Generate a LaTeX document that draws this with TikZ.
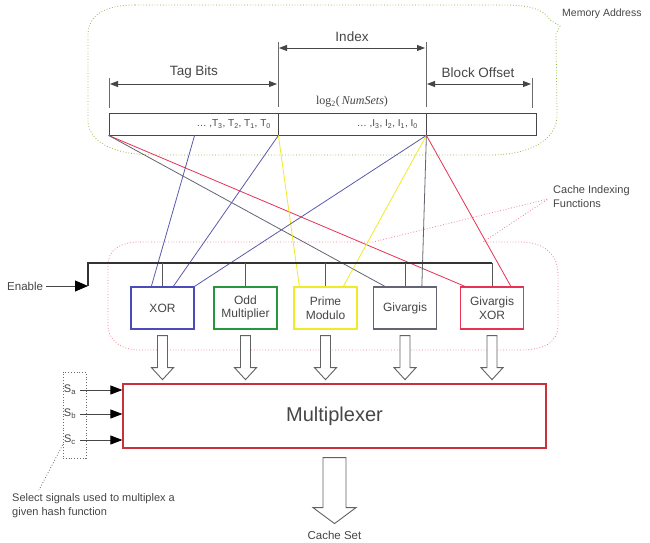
\documentclass[tikz,border=0pt]{standalone}
\usepackage{fontspec}
\setmainfont{Liberation Sans}
\newfontfamily\lserif{Liberation Serif}
\usetikzlibrary{arrows.meta,calc}
\definecolor{txt}{RGB}{70,70,70}
\definecolor{cblue}{RGB}{75,75,185}
\definecolor{lblue}{RGB}{90,90,170}
\definecolor{cgreen}{RGB}{40,150,60}
\definecolor{cyellow}{RGB}{240,235,40}
\definecolor{cgrey}{RGB}{100,100,115}
\definecolor{cred}{RGB}{230,50,85}
\definecolor{muxred}{RGB}{200,50,60}
\definecolor{cpink}{RGB}{240,130,150}
\definecolor{cloudg}{RGB}{150,185,70}
\begin{document}
\begin{tikzpicture}[x=1pt,y=-1pt,
  lbl/.style={text=txt, font=\fontsize{13.5}{16}\selectfont, inner sep=0pt},
  small/.style={text=txt, font=\fontsize{11}{14}\selectfont, inner sep=0pt},
  fld/.style={draw=txt, line width=0.8pt, minimum height=22pt, inner sep=0pt},
  fn/.style={draw, line width=1.3pt, fill=white, minimum width=63pt, minimum height=42pt, inner sep=1pt, align=center, text=txt, font=\fontsize{12}{13.5}\selectfont},
  dimarrow/.style={draw=txt, line width=0.9pt, {Triangle[length=8pt,width=6pt]}-{Triangle[length=8pt,width=6pt]}},
  dimtick/.style={draw=txt!80, line width=0.6pt},
  wire/.style={line width=0.8pt},
  hollow/.style={draw=txt!85, line width=0.9pt, fill=white, line join=miter},
  drop/.style={draw=txt!90, line width=0.9pt},
  selarrow/.style={draw=txt, line width=0.7pt, -{Triangle[length=12pt,width=9pt,color=black]}},
  slbl/.style={text=txt, font=\fontsize{11}{12}\selectfont, inner sep=1pt},
  cloudline/.style={draw=cloudg, line width=0.8pt, dotted},
  pinkline/.style={draw=cpink, line width=0.8pt, dotted}
]
\useasboundingbox (0,0) rectangle (650,543);
\fill[white] (0,0) rectangle (650,543);

% Memory address cloud
\draw[cloudline] (135,5) -- (505,5) .. controls (530,5) and (545,10) .. (550,20) -- (560,26) -- (556,34) -- (557,115) .. controls (557,140) and (530,155) .. (490,155) -- (155,155) .. controls (110,155) and (88,140) .. (88,120) -- (88,35) .. controls (88,15) and (105,5) .. (135,5) -- cycle;
\node[anchor=west, text=txt, font=\fontsize{10.5}{12}\selectfont, inner sep=0pt] (mem) at (562,14) {Memory Address};

% Cache indexing functions cloud
\draw[pinkline] (140,242) -- (373,242) -- (548,199) -- (483,242) -- (520,242) .. controls (545,242) and (558,255) .. (558,275) -- (558,325) .. controls (558,342) and (545,350) .. (520,350) -- (140,350) .. controls (120,350) and (108,340) .. (108,325) -- (108,265) .. controls (108,250) and (120,242) .. (140,242) -- cycle;
\node[anchor=west, align=left, small] (cif) at (553,197) {Cache Indexing\\Functions};

% Address fields
\node[fld, minimum width=169pt] (tag) at (193.5,124) {};
\node[fld, minimum width=148pt] (idx) at (352,124) {};
\node[fld, minimum width=110pt] (off) at (481,124) {};
\node[anchor=east, text=txt, font=\fontsize{10}{11}\selectfont, inner sep=0pt] (ttxt) at (271,124) {\dots\ ,T\textsubscript{3}, T\textsubscript{2}, T\textsubscript{1}, T\textsubscript{0}};
\node[anchor=east, text=txt, font=\fontsize{10}{11}\selectfont, inner sep=0pt] (itxt) at (418,124) {\dots\ ,I\textsubscript{3}, I\textsubscript{2}, I\textsubscript{1}, I\textsubscript{0}};
\node[text=txt, font=\lserif\fontsize{12}{13}\selectfont, inner sep=0pt] (logn) at (352,102) {log\textsubscript{2}(\,\textit{NumSets})};

% dimension ticks and arrows
\coordinate (t0a) at (109,78);  \coordinate (t0b) at (109,108);
\coordinate (t1a) at (278,42);  \coordinate (t1b) at (278,107);
\coordinate (t2a) at (426,42);  \coordinate (t2b) at (426,107);
\coordinate (t3a) at (532,78);  \coordinate (t3b) at (532,108);
\draw[dimtick] (t0a) -- (t0b);
\draw[dimtick] (t1a) -- (t1b);
\draw[dimtick] (t2a) -- (t2b);
\draw[dimtick] (t3a) -- (t3b);
\draw[dimarrow] (110,84) -- (277,84);
\draw[dimarrow] (279,48) -- (425,48);
\draw[dimarrow] (427,84) -- (531,84);
\node[lbl] (tagl) at (194,72) {Tag Bits};
\node[lbl] (idxl) at (352,37) {Index};
\node[lbl] (offl) at (478,73) {Block Offset};

% address tap points
\coordinate (a0) at (tag.south west);
\coordinate (aT) at ([xshift=86pt]tag.south west);
\coordinate (a1) at (tag.south east);
\coordinate (a2) at (idx.south east);

% function boxes
\node[fn, draw=cblue] (xor) at (162.5,308) {XOR};
\node[fn, draw=cgreen] (odd) at (245.5,308) {Odd\\Multiplier};
\node[fn, draw=cyellow] (prime) at (325.5,308) {Prime\\Modulo};
\node[fn, draw=cgrey] (giv) at (405,308) {Givargis};
\node[fn, draw=cred] (givx) at (492,308) {Givargis\\XOR};

% wires from address to functions
\draw[wire, cred] (a0) -- ([xshift=5pt]givx.north west);
\draw[wire, cgrey] (a0) -- ([xshift=12pt]giv.north west);
\draw[wire, lblue] (aT) -- ([xshift=21pt]xor.north west);
\draw[wire, lblue] (a1) -- ([xshift=43pt]xor.north west);
\draw[wire, cyellow] (a1) -- ([xshift=6pt]prime.north west);
\draw[wire, lblue] (a2) -- (xor.north east);
\draw[wire, cyellow] (a2) -- ([xshift=50pt]prime.north west);
\draw[wire, cgrey] (a2) -- ([xshift=49pt]giv.north west);
\draw[wire, cred] (a2) -- ([xshift=51pt]givx.north west);

% enable bus
\node[anchor=west, text=txt, font=\fontsize{11.5}{13}\selectfont, inner sep=0pt] (enable) at (7,286) {Enable};
\coordinate (en) at (88,286);
\coordinate (busL) at (88,263);
\coordinate (busR) at (492,263);
\draw[draw=txt, line width=0.8pt, -{Triangle[length=13pt,width=11pt,color=black]}] ([xshift=3pt]enable.east) -- (en);
\draw[draw=black!80, line width=2pt, line join=miter] (en) -- (busL) -- (busR);
\foreach \b in {xor,odd,prime,giv,givx} {
  \draw[drop] (\b.north |- busL) -- (\b.north);
}

% multiplexer
\node[draw=muxred, line width=1.2pt, minimum width=423pt, minimum height=64pt, inner sep=0pt, text=txt, font=\fontsize{20}{24}\selectfont] (mux) at (334.5,416) {Multiplexer};

% hollow arrows into multiplexer
\foreach \b in {xor,odd,prime,giv,givx} {
  \draw[hollow] ([xshift=-5pt,yshift=-6pt]\b.south) -- ++(0,32) -- ++(-6,0) -- ++(11,12) -- ++(11,-12) -- ++(-6,0) -- ++(0,-32) -- cycle;
}

% cache set output arrow
\draw[hollow] ([xshift=-11.5pt,yshift=-9pt]mux.south) -- ++(0,50) -- ++(-10,0) -- ++(21.5,16) -- ++(21.5,-16) -- ++(-10,0) -- ++(0,-50) -- cycle;
\node[text=txt, font=\fontsize{11.5}{13}\selectfont, inner sep=0pt] (cset) at (334.5,535) {Cache Set};

% select signals
\node[slbl] (sa) at (70,390) {S\textsubscript{a}};
\node[slbl] (sb) at (70,414) {S\textsubscript{b}};
\node[slbl] (sc) at (70,440) {S\textsubscript{c}};
\draw[selarrow] ([xshift=3pt]sa.east) -- (sa.east -| mux.west);
\draw[selarrow] ([xshift=3pt]sb.east) -- (sb.east -| mux.west);
\draw[selarrow] ([xshift=3pt]sc.east) -- (sc.east -| mux.west);
\node[draw=txt!80, dotted, line width=0.8pt, minimum width=23pt, minimum height=86pt, inner sep=0pt] (selbox) at (74.5,415) {};
\node[anchor=north west, align=left, small] (note) at (12,493) {Select signals used to multiplex a\\given hash function};
\draw[draw=txt!80, dotted, line width=0.8pt] ([yshift=-30pt]selbox.west) -- ([xshift=27pt,yshift=3pt]note.north west);
\end{tikzpicture}
\end{document}
